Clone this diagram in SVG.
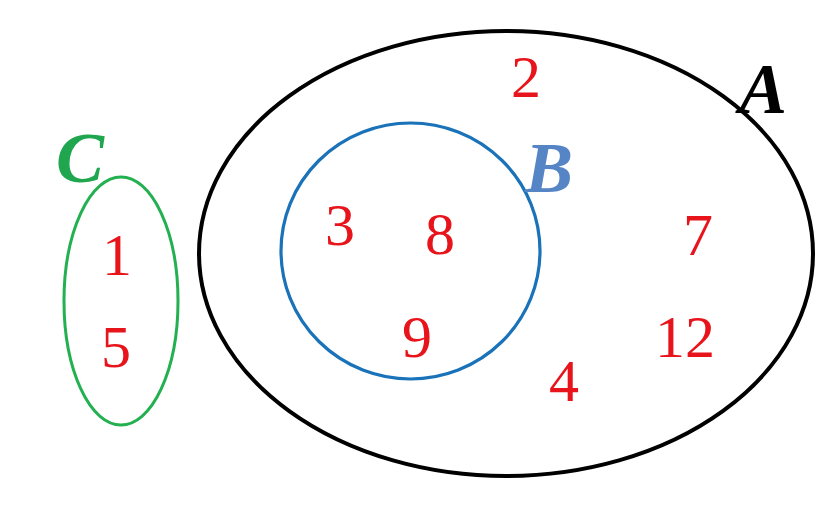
<svg xmlns="http://www.w3.org/2000/svg" width="836" height="506" viewBox="0 0 836 506">
<style>
.num{font-family:"Liberation Serif","Times New Roman",serif;font-size:60px;fill:#e8141c;text-anchor:middle}
.lbl{font-family:"Liberation Serif","Times New Roman",serif;font-size:72px;font-weight:bold;font-style:italic;text-anchor:middle}
</style>
<rect width="836" height="506" fill="#ffffff"/>
<g id="A">
<ellipse cx="506" cy="253.5" rx="307" ry="222.5" fill="none" stroke="#000000" stroke-width="4"/>
<text class="lbl" x="763" y="113" fill="#000000">A</text>
<text class="num" x="526" y="97">2</text>
<text class="num" x="698" y="255">7</text>
<text class="num" x="685" y="357">12</text>
<text class="num" x="564" y="401">4</text>
</g>
<g id="B">
<ellipse cx="410.5" cy="251" rx="129.5" ry="128" fill="none" stroke="#1a72b9" stroke-width="3.2"/>
<text class="lbl" x="549" y="192" fill="#5585c5">B</text>
<text class="num" x="340" y="245">3</text>
<text class="num" x="440" y="254">8</text>
<text class="num" x="417" y="357">9</text>
</g>
<g id="C">
<ellipse cx="121" cy="301" rx="57" ry="124" fill="none" stroke="#22b050" stroke-width="3"/>
<text class="lbl" x="80" y="182" fill="#1fa64e">C</text>
<text class="num" x="117" y="275">1</text>
<text class="num" x="116" y="367">5</text>
</g>
<g id="connectors"/>
</svg>
